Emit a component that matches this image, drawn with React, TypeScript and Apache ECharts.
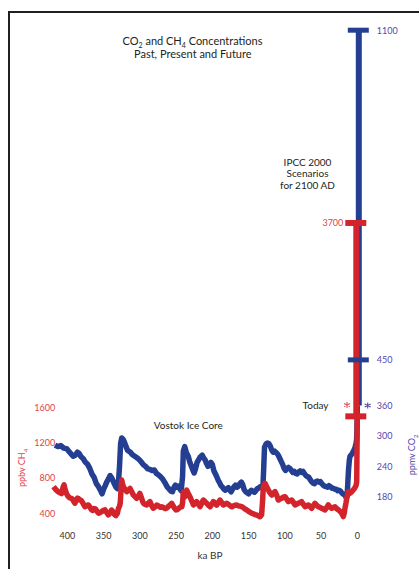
import React, { useEffect, useRef } from "react";
import * as echarts from "echarts";

// ---- data ----
const xTickLabels = [400, 350, 300, 250, 200, 150, 100, 50, 0];
const ch4TickLabels = [400, 800, 1200, 1600];
const co2TickLabels = [180, 240, 300, 360, 450, 1100];

// Vostok CO2 [ka BP, ppmv]
const co2Vostok: [number, number][] = [
  [417, 282], [413, 279], [409, 281], [405, 276], [401, 275], [398, 270], [395, 265], [392, 260],
  [389, 262], [386, 268], [384, 266], [381, 259], [378, 255], [375, 248], [372, 244], [369, 236],
  [366, 225], [363, 218], [360, 206], [357, 200], [354, 192], [352, 186], [350, 195], [348, 201],
  [346, 208], [343, 216], [341, 222], [339, 218], [337, 212], [335, 205], [333, 199], [331, 196],
  [329.6, 205], [328, 240], [326.5, 285], [325, 296], [323, 293], [321, 287], [319, 279], [317, 272],
  [315, 270], [313, 268], [311, 264], [309, 262], [306, 259], [303, 256], [300, 252], [297, 247],
  [295, 243], [292, 240], [289, 235], [286, 234], [283, 232], [280, 233], [277, 226], [274, 223],
  [271, 219], [268, 214], [265, 207], [262, 199], [260, 196], [257, 191], [255, 190], [253, 198],
  [251, 203], [249, 199], [247, 201], [245, 196], [243, 192], [241, 220], [240, 270], [238, 279],
  [236, 268], [233, 259], [231, 248], [229, 241], [227, 233], [225, 227], [223, 236], [221, 248],
  [219, 253], [217, 258], [214, 262], [212, 257], [210, 253], [208, 246], [206, 240], [204, 243],
  [202, 248], [200, 244], [198, 232], [196, 226], [194, 220], [192, 213], [190, 208], [188, 202],
  [186, 199], [184, 195], [182, 193], [180, 196], [178, 198], [176, 193], [174, 190], [172, 195],
  [170, 200], [168, 203], [166, 199], [164, 201], [162, 206], [160, 209], [158, 204], [156, 194],
  [154, 190], [152, 188], [150, 186], [148, 190], [146, 193], [144, 191], [142, 189], [140, 192],
  [138, 196], [136, 197], [134, 200], [132, 199], [130, 205], [129, 240], [128, 278], [126, 284],
  [124, 286], [122, 285], [120, 280], [118, 272], [116, 268], [114, 270], [111, 266], [109, 262],
  [107, 256], [105, 250], [103, 244], [101, 236], [99, 232], [97, 236], [95, 238], [93, 236],
  [91, 232], [89, 228], [87, 230], [85, 226], [83, 225], [81, 229], [79, 231], [77, 228],
  [75, 230], [73, 226], [71, 222], [69, 220], [67, 219], [65, 214], [63, 210], [61, 207],
  [59, 206], [57, 210], [55, 211], [53, 209], [51, 210], [49, 206], [47, 203], [45, 201],
  [43, 200], [41, 199], [39, 202], [37, 200], [35, 197], [33, 197], [31, 195], [29, 195],
  [27, 192], [25, 193], [23, 191], [21, 187], [19, 185], [17, 183], [15, 178], [14, 182],
  [13, 210], [12, 235], [11, 252], [10, 260], [8, 263], [6, 268], [4, 274], [3, 278],
  [2, 283], [1, 292], [0.5, 310], [0, 360],
];

// Vostok CH4 [ka BP, ppbv]
const ch4Vostok: [number, number][] = [
  [419, 700], [416, 668], [413, 643], [410, 630], [408, 622], [406, 690], [404.5, 720], [403, 665],
  [401, 620], [399, 590], [397, 575], [395, 568], [393, 560], [391, 530], [389.5, 512], [388, 540],
  [386, 570], [384.8, 565], [383, 550], [381, 545], [379, 520], [377, 490], [375.6, 472], [373.5, 485],
  [371, 492], [369, 470], [367, 440], [365, 430], [363, 452], [361, 445], [359, 420], [357, 398],
  [355, 405], [352.6, 416], [350.5, 430], [348, 436], [346, 410], [343.4, 380], [341, 400], [339, 434],
  [337, 415], [335, 385], [333, 372], [331, 395], [329.6, 450], [328, 480], [327, 512], [326, 650],
  [325, 775], [324, 740], [322.7, 700], [320, 665], [318, 643], [316, 660], [313.5, 680], [311, 640],
  [309, 605], [307, 590], [304.4, 568], [302, 590], [300, 624], [298, 580], [296, 530], [295, 512],
  [293, 500], [290.6, 492], [288, 515], [286, 530], [284, 490], [281.4, 455], [279, 470], [276.7, 490],
  [274, 480], [272, 465], [269.8, 472], [267, 460], [265, 450], [262.9, 455], [260, 480], [258, 495],
  [256, 510], [254, 480], [252, 455], [250, 435], [248, 440], [246, 455], [244, 470], [242, 472],
  [241, 520], [240, 640], [238.5, 600], [237.7, 585], [236.5, 630], [235.4, 660], [233, 620], [230.8, 586],
  [228.5, 540], [226, 492], [224, 505], [221.6, 530], [219, 500], [217, 472], [215, 505], [212.4, 548],
  [210, 530], [207.8, 512], [205.5, 490], [203, 472], [200.8, 500], [198.6, 530], [196, 510], [194, 490],
  [192, 515], [189.4, 548], [187, 520], [184.8, 492], [182.5, 500], [180, 511], [177, 495], [175, 480],
  [173, 472], [170, 485], [168, 490], [166.4, 492], [164, 482], [162, 478], [159.4, 472], [157, 460],
  [155, 445], [152.6, 436], [150, 420], [148, 410], [145.7, 398], [143, 390], [140.5, 380], [138.8, 378],
  [136.5, 368], [134.2, 358], [132, 380], [130.5, 560], [129.7, 700], [128.5, 720], [127.3, 738], [125, 700],
  [122.7, 662], [120.5, 630], [118, 605], [116, 625], [113.5, 643], [111, 600], [109, 548], [106.5, 560],
  [104.4, 568], [102, 580], [99.7, 586], [97.5, 560], [95.2, 530], [93, 540], [90.6, 548], [88, 520],
  [86, 492], [84, 500], [81.4, 511], [79, 520], [76.8, 530], [74.5, 500], [72, 472], [70, 480],
  [67.5, 492], [65, 470], [63, 454], [61, 480], [58.4, 511], [56, 490], [53.8, 472], [51.5, 465],
  [49.2, 454], [47, 445], [44.6, 436], [42, 465], [40, 492], [38, 470], [35.4, 454], [33, 465],
  [30.8, 472], [28.5, 450], [26, 436], [24, 420], [21.6, 398], [20.5, 380], [19.3, 360], [18, 400],
  [17, 455], [15.5, 520], [14.6, 568], [13.5, 600], [12.4, 643], [11, 630], [10, 625], [8, 640],
  [6, 660], [4, 680], [2.5, 700], [1.5, 720], [0.8, 760], [0, 1500],
];

// IPCC 2000 scenarios for 2100 AD (plotted at 0 ka)
const co2ScenarioBar = [0, 360, 1100]; // [ka, from, to] ppmv
const co2ScenarioCaps = [450, 1100];
const ch4ScenarioBar = [0, 1500, 3700]; // [ka, from, to] ppbv
const ch4ScenarioCaps = [1500, 3700];
const todayCH4 = 1630;
const todayCO2 = 360;

const FONT = "Lato, 'Open Sans', sans-serif";
const BLUE = "#243F91";
const RED = "#D3242B";
const RED_TEXT = "#E0444A";
const PURPLE = "#5548A8";
const DARK = "#231F20";

const ASTERISK = "path://M5,0L5,10M0.67,2.5L9.33,7.5M0.67,7.5L9.33,2.5";

function barRenderer(dx: number, w: number, color: string) {
  return (params: any, api: any) => {
    const lo = api.coord([api.value(0), api.value(1)]);
    const hi = api.coord([api.value(0), api.value(2)]);
    return {
      type: "rect",
      shape: { x: lo[0] + dx - w / 2, y: hi[1], width: w, height: lo[1] - hi[1] },
      style: { fill: color },
    };
  };
}

export default function App() {
  const ref = useRef<HTMLDivElement>(null);
  useEffect(() => {
    if (!ref.current) return;
    const chart = echarts.init(ref.current, undefined, { renderer: "svg" });
    const fmt = (v: number) => String(v);
    const option: any = {
      animation: false,
      grid: { left: 49.2, right: 47.2, top: 20, bottom: 42 },
      xAxis: {
        type: "value",
        inverse: true,
        min: -20,
        max: 425,
        axisLine: { show: false },
        axisTick: { show: false },
        splitLine: { show: false },
        axisLabel: {
          customValues: xTickLabels,
          formatter: fmt,
          color: "#333333",
          fontSize: 9,
          fontFamily: FONT,
          margin: 4,
        },
      },
      yAxis: [
        {
          type: "value",
          position: "left",
          min: 241.2,
          max: 6009,
          axisLine: { show: false },
          axisTick: { show: false },
          splitLine: { show: false },
          axisLabel: {
            customValues: ch4TickLabels,
            formatter: fmt,
            color: RED_TEXT,
            fontSize: 9,
            fontFamily: FONT,
            margin: -6,
          },
        },
        {
          type: "value",
          position: "right",
          min: 120.5,
          max: 1120.1,
          axisLine: { show: false },
          axisTick: { show: false },
          splitLine: { show: false },
          axisLabel: {
            customValues: co2TickLabels,
            formatter: fmt,
            color: PURPLE,
            fontSize: 9,
            fontFamily: FONT,
            margin: 5,
          },
        },
      ],
      series: [
        {
          type: "line",
          yAxisIndex: 1,
          data: co2Vostok,
          symbol: "none",
          silent: true,
          z: 2,
          lineStyle: { color: BLUE, width: 5.5, join: "round" },
        },
        {
          type: "line",
          yAxisIndex: 0,
          data: ch4Vostok,
          symbol: "none",
          silent: true,
          z: 3,
          lineStyle: { color: RED, width: 5.5, join: "round" },
        },
        {
          type: "custom",
          yAxisIndex: 1,
          data: [co2ScenarioBar],
          silent: true,
          z: 4,
          encode: { x: 0, y: [1, 2] },
          renderItem: barRenderer(1.5, 6, BLUE),
        },
        {
          type: "custom",
          yAxisIndex: 0,
          data: [ch4ScenarioBar],
          silent: true,
          z: 5,
          encode: { x: 0, y: [1, 2] },
          renderItem: barRenderer(-1, 6, RED),
        },
        {
          type: "scatter",
          yAxisIndex: 0,
          silent: true,
          z: 6,
          symbol: "rect",
          symbolSize: [21, 6],
          symbolOffset: [-1.5, 0],
          itemStyle: { color: RED, opacity: 1 },
          data: ch4ScenarioCaps.map((v) => ({
            value: [0, v],
            label: {
              show: v === 3700,
              position: "left",
              distance: 2,
              formatter: fmt(v),
              color: RED_TEXT,
              fontSize: 9,
              fontFamily: FONT,
            },
          })),
        },
        {
          type: "scatter",
          yAxisIndex: 1,
          silent: true,
          z: 7,
          symbol: "rect",
          symbolSize: [21, 5],
          symbolOffset: [1, 0],
          itemStyle: { color: BLUE, opacity: 1 },
          data: co2ScenarioCaps.map((v) => [0, v]),
        },
        {
          type: "scatter",
          yAxisIndex: 0,
          silent: true,
          z: 8,
          symbol: ASTERISK,
          symbolSize: 6,
          symbolOffset: [-10.3, 0],
          itemStyle: { color: "transparent", borderColor: "#E4525A", borderWidth: 1.1, opacity: 1 },
          data: [[0, todayCH4]],
        },
        {
          type: "scatter",
          yAxisIndex: 1,
          silent: true,
          z: 8,
          symbol: ASTERISK,
          symbolSize: 6,
          symbolOffset: [10.4, 0],
          itemStyle: { color: "transparent", borderColor: PURPLE, borderWidth: 1.1, opacity: 1 },
          data: [[0, todayCO2]],
        },
      ],
      graphic: [
        {
          type: "rect",
          silent: true,
          shape: { x: 9, y: 12, width: 700, height: 800 },
          style: { fill: "none", stroke: DARK, lineWidth: 2 },
        },
        {
          type: "text",
          x: 192.5,
          y: 40.5,
          silent: true,
          style: {
            text: "{a|CO}{s|2}{a| and CH}{s|4}{a| Concentrations}",
            align: "center",
            verticalAlign: "middle",
            rich: {
              a: { fontSize: 11, fontFamily: FONT, fill: DARK, lineHeight: 15 },
              s: { fontSize: 7, fontFamily: FONT, fill: DARK, verticalAlign: "bottom" },
            },
          },
        },
        {
          type: "text",
          x: 192.8,
          y: 53.5,
          silent: true,
          style: {
            text: "Past, Present and Future",
            align: "center",
            verticalAlign: "middle",
            fontSize: 11,
            fontFamily: FONT,
            fill: DARK,
          },
        },
        {
          type: "text",
          x: 307.5,
          y: 173,
          silent: true,
          style: {
            text: "IPCC 2000\nScenarios\nfor 2100 AD",
            align: "center",
            verticalAlign: "middle",
            fontSize: 10,
            lineHeight: 11.5,
            fontFamily: FONT,
            fill: DARK,
          },
        },
        {
          type: "text",
          x: 188.3,
          y: 424.5,
          silent: true,
          style: {
            text: "Vostok Ice Core",
            align: "center",
            verticalAlign: "middle",
            fontSize: 10,
            fontFamily: FONT,
            fill: DARK,
          },
        },
        {
          type: "text",
          x: 328.5,
          y: 404.5,
          silent: true,
          style: {
            text: "Today",
            align: "right",
            verticalAlign: "middle",
            fontSize: 10,
            fontFamily: FONT,
            fill: DARK,
          },
        },
        {
          type: "text",
          x: 210,
          y: 555,
          silent: true,
          style: {
            text: "ka BP",
            align: "center",
            verticalAlign: "middle",
            fontSize: 10,
            fontFamily: FONT,
            fill: "#333333",
          },
        },
        {
          type: "text",
          x: 21.7,
          y: 468,
          rotation: Math.PI / 2,
          silent: true,
          style: {
            text: "{a|ppbv CH}{s|4}",
            align: "center",
            verticalAlign: "middle",
            rich: {
              a: { fontSize: 9, fontFamily: FONT, fill: RED_TEXT, lineHeight: 13 },
              s: { fontSize: 6, fontFamily: FONT, fill: RED_TEXT, verticalAlign: "bottom" },
            },
          },
        },
        {
          type: "text",
          x: 411.5,
          y: 455,
          rotation: Math.PI / 2,
          silent: true,
          style: {
            text: "{a|ppmv CO}{s|2}",
            align: "center",
            verticalAlign: "middle",
            rich: {
              a: { fontSize: 9, fontFamily: FONT, fill: PURPLE, lineHeight: 13 },
              s: { fontSize: 6, fontFamily: FONT, fill: PURPLE, verticalAlign: "bottom" },
            },
          },
        },
      ],
    };
    chart.setOption(option);
    return () => chart.dispose();
  }, []);
  return (
    <div
      ref={ref}
      style={{ position: "absolute", left: 0, top: 0, width: 419, height: 569 }}
    />
  );
}
